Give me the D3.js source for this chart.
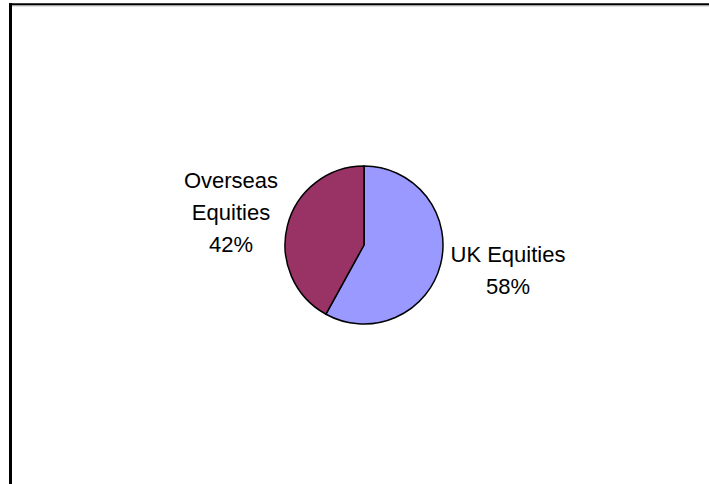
<!DOCTYPE html>
<html><head><meta charset="utf-8">
<script src="https://cdn.jsdelivr.net/npm/d3@7"></script>
<style>html,body{margin:0;padding:0;background:#fff;}svg{display:block;}</style>
</head><body>
<script>
const categories = ["UK Equities", "Overseas Equities"];
const labelLines = [["UK Equities"], ["Overseas", "Equities"]];
const values = [58, 42];
const colors = ["#9999FF", "#993366"];

const W = 709, H = 484;
const svg = d3.select("body").append("svg").attr("width", W).attr("height", H);

// chart frame
svg.append("line").attr("x1", 10.5).attr("y1", 3).attr("x2", 10.5).attr("y2", H).attr("stroke", "#000").attr("stroke-width", 3);
svg.append("line").attr("x1", 9).attr("y1", 4.3).attr("x2", W).attr("y2", 4.3).attr("stroke", "#000").attr("stroke-width", 2);
svg.append("line").attr("x1", 12).attr("y1", 5.8).attr("x2", W).attr("y2", 5.8).attr("stroke", "#9a9a9a").attr("stroke-width", 1);

const cx = 364, cy = 245, R = 79;
const pie = d3.pie().sort(null).value(d => d)(values);
const arc = d3.arc().innerRadius(0).outerRadius(R);
const g = svg.append("g").attr("transform", `translate(${cx},${cy})`);
g.selectAll("path").data(pie).join("path")
  .attr("d", arc)
  .attr("fill", (d, i) => colors[i])
  .attr("stroke", "#000").attr("stroke-width", 1.5).attr("stroke-linejoin", "round");

// labels
const fmt = d3.format(".0%");
const total = d3.sum(values);
const labelPos = [[144, 17], [-133, -57]]; // offsets from centre to first baseline
const lineH = 31.8;
pie.forEach((d, i) => {
  const lines = labelLines[i].concat([Math.round(values[i] / total * 100) + "%"]);
  const t = svg.append("text")
    .attr("x", cx + labelPos[i][0]).attr("y", cy + labelPos[i][1])
    .attr("text-anchor", "middle")
    .attr("font-family", "Liberation Sans, Arial, sans-serif")
    .attr("font-size", 22).attr("fill", "#000");
  lines.forEach((s, j) => {
    t.append("tspan").attr("x", cx + labelPos[i][0]).attr("y", cy + labelPos[i][1] + j * lineH).text(s);
  });
});
</script>
</body></html>
